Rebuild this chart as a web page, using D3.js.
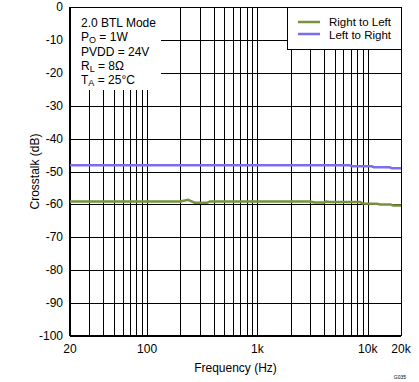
<!DOCTYPE html>
<html>
<head>
<meta charset="utf-8">
<script src="https://cdn.jsdelivr.net/npm/d3@7"></script>
<style>
  body { margin: 0; background: #fff; }
  text { font-family: "Liberation Sans", Arial, sans-serif; fill: #000; }
</style>
</head>
<body>
<div id="chart"></div>
<script>
// Series data
var rightToLeftFreq = [20, 50, 100, 200, 220, 235, 250, 270, 350, 370, 600, 1000, 2000, 3000, 3300, 4000, 4200, 4500, 8500, 9000, 12000, 13000, 16000, 17000, 20000];
var rightToLeftDb = [-59.1, -59.1, -59.1, -59.1, -58.8, -58.6, -59.0, -59.5, -59.5, -59.1, -59.1, -59.1, -59.1, -59.1, -59.4, -59.4, -59.1, -59.3, -59.3, -59.7, -59.8, -60.0, -60.0, -60.3, -60.3];
var leftToRightFreq = [20, 100, 1000, 6800, 7200, 10800, 11400, 15800, 16600, 20000];
var leftToRightDb = [-48.1, -48.1, -48.1, -48.1, -48.4, -48.4, -48.7, -48.7, -49.0, -49.0];

var seriesNames = ["Right to Left", "Left to Right"];
var seriesColors = ["#76923c", "#7b6cf0"];

var yTicks = [0, -10, -20, -30, -40, -50, -60, -70, -80, -90, -100];
var xTickValues = [20, 100, 1000, 10000, 20000];
var xTickLabels = ["20", "100", "1k", "10k", "20k"];
var xGridValues = [30, 40, 50, 60, 70, 80, 90, 100, 200, 300, 400, 500, 600, 700, 800, 900,
    1000, 2000, 3000, 4000, 5000, 6000, 7000, 8000, 9000, 10000];

var svgWidth = 419, svgHeight = 382;
var margin = { top: 7, right: 18, bottom: 46, left: 70 };
var width = svgWidth - margin.left - margin.right;
var height = svgHeight - margin.top - margin.bottom;

var svg = d3.select("#chart").append("svg")
    .attr("width", svgWidth)
    .attr("height", svgHeight);

var chartGroup = svg.append("g")
    .attr("transform", `translate(${margin.left}, ${margin.top})`);

var xScale = d3.scaleLog().domain([20, 20000]).range([0, width]);
var yScale = d3.scaleLinear().domain([-100, 0]).range([height, 0]);

// Grid lines
chartGroup.selectAll(".vgrid")
    .data(xGridValues)
    .enter()
    .append("line")
    .attr("x1", d => Math.round(xScale(d)) + 0.5)
    .attr("x2", d => Math.round(xScale(d)) + 0.5)
    .attr("y1", 0)
    .attr("y2", height)
    .attr("stroke", "#000")
    .attr("stroke-width", 1);

chartGroup.selectAll(".hgrid")
    .data(yTicks)
    .enter()
    .append("line")
    .attr("x1", 0)
    .attr("x2", width)
    .attr("y1", d => Math.round(yScale(d)) + 0.5)
    .attr("y2", d => Math.round(yScale(d)) + 0.5)
    .attr("stroke", "#000")
    .attr("stroke-width", 1);

// Frame
chartGroup.append("line")
    .attr("x1", 0).attr("x2", 0).attr("y1", 0).attr("y2", height)
    .attr("stroke", "#000").attr("stroke-width", 2);
chartGroup.append("line")
    .attr("x1", 0).attr("x2", width).attr("y1", height).attr("y2", height)
    .attr("stroke", "#000").attr("stroke-width", 2);
chartGroup.append("line")
    .attr("x1", width + 0.5).attr("x2", width + 0.5).attr("y1", 0).attr("y2", height)
    .attr("stroke", "#000").attr("stroke-width", 1);

// Lines
var line = d3.line()
    .x(d => xScale(d[0]))
    .y(d => yScale(d[1]));

var seriesData = [
    d3.zip(rightToLeftFreq, rightToLeftDb),
    d3.zip(leftToRightFreq, leftToRightDb)
];

chartGroup.selectAll(".series")
    .data(seriesData)
    .enter()
    .append("path")
    .attr("d", d => line(d))
    .attr("fill", "none")
    .attr("stroke", (d, i) => seriesColors[i])
    .attr("stroke-width", 2.5);

// Condition box (white, covers grid)
chartGroup.append("rect")
    .attr("x", 1).attr("y", 1)
    .attr("width", 90).attr("height", 82)
    .attr("fill", "#fff");

var notes = chartGroup.append("g").attr("transform", "translate(11, 0)");
var noteLines = [
    [["2.0 BTL Mode", false]],
    [["P", false], ["O", true], [" = 1W", false]],
    [["PVDD = 24V", false]],
    [["R", false], ["L", true], [" = 8Ω", false]],
    [["T", false], ["A", true], [" = 25°C", false]]
];
noteLines.forEach(function(parts, i) {
    var t = notes.append("text")
        .attr("x", 0)
        .attr("y", 20 + i * 14.3)
        .attr("font-size", "12px");
    parts.forEach(function(p) {
        var ts = t.append("tspan").text(p[0]);
        if (p[1]) {
            ts.attr("font-size", "9px").attr("dy", 2);
        } else if (ts.node().previousSibling) {
            ts.attr("dy", -2);
        }
    });
});

// Top border drawn above box
chartGroup.append("line")
    .attr("x1", 0).attr("x2", width).attr("y1", 0.5).attr("y2", 0.5)
    .attr("stroke", "#000").attr("stroke-width", 1);

// Legend
var legend = chartGroup.append("g").attr("transform", `translate(${width - 114}, 0)`);
legend.append("rect")
    .attr("x", 0.5).attr("y", 0.5)
    .attr("width", 114).attr("height", 42)
    .attr("fill", "#fff")
    .attr("stroke", "#000")
    .attr("stroke-width", 1);
seriesNames.forEach(function(name, i) {
    legend.append("line")
        .attr("x1", 11).attr("x2", 33)
        .attr("y1", 15 + i * 12).attr("y2", 15 + i * 12)
        .attr("stroke", seriesColors[i])
        .attr("stroke-width", 2.5);
    legend.append("text")
        .attr("x", 42)
        .attr("y", 19 + i * 12.5)
        .attr("font-size", "11.5px")
        .text(name);
});

// Axis tick labels
chartGroup.selectAll(".ylab")
    .data(yTicks)
    .enter()
    .append("text")
    .attr("x", -7)
    .attr("y", d => yScale(d) + 4)
    .attr("text-anchor", "end")
    .attr("font-size", "12px")
    .text(d => d);

chartGroup.selectAll(".xlab")
    .data(xTickValues)
    .enter()
    .append("text")
    .attr("x", d => xScale(d))
    .attr("y", height + 17)
    .attr("text-anchor", "middle")
    .attr("font-size", "12px")
    .text((d, i) => xTickLabels[i]);

// Axis titles
chartGroup.append("text")
    .attr("x", width / 2)
    .attr("y", height + 36)
    .attr("text-anchor", "middle")
    .attr("font-size", "12px")
    .text("Frequency (Hz)");

chartGroup.append("text")
    .attr("transform", "rotate(-90)")
    .attr("x", -height / 2)
    .attr("y", -31)
    .attr("text-anchor", "middle")
    .attr("font-size", "12px")
    .text("Crosstalk (dB)");

svg.append("text")
    .attr("x", 406)
    .attr("y", 379)
    .attr("text-anchor", "end")
    .attr("font-size", "5px")
    .text("G035");
</script>
</body>
</html>
